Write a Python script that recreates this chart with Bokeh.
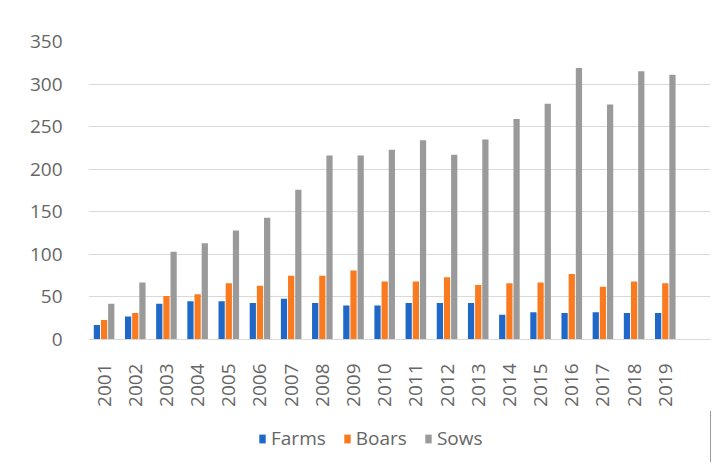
import math
from bokeh.plotting import figure
from bokeh.layouts import column
from bokeh.models import ColumnDataSource, Range1d, FixedTicker, Legend, LegendItem
from bokeh.transform import dodge
from bokeh.embed import file_html
from bokeh.resources import INLINE

years = ["2001", "2002", "2003", "2004", "2005", "2006", "2007", "2008", "2009", "2010",
         "2011", "2012", "2013", "2014", "2015", "2016", "2017", "2018", "2019"]
farms = [17, 27, 42, 45, 45, 43, 48, 43, 40, 40, 43, 43, 43, 29, 32, 31, 32, 31, 31]
boars = [23, 31, 51, 53, 66, 63, 75, 75, 81, 68, 68, 73, 64, 66, 67, 77, 62, 68, 66]
sows = [42, 67, 103, 113, 128, 143, 176, 216, 216, 223, 234, 217, 235, 259, 277, 319, 276, 315, 311]
y_ticks = [0, 50, 100, 150, 200, 250, 300, 350]
series_names = ["Farms", "Boars", "Sows"]
series_colors = ["#1F68C8", "#F97A1F", "#9A9A9A"]

xs = list(range(len(years)))
src = ColumnDataSource(dict(x=xs, farms=farms, boars=boars, sows=sows))

FONT = "Open Sans"
TXT = "#666666"
FS = "19px"

p = figure(width=718, height=411, output_backend="svg", toolbar_location=None,
           x_range=Range1d(-0.5, 19.45), y_range=Range1d(0, 350),
           min_border_left=88, min_border_right=8, min_border_top=41, min_border_bottom=72)
p.outline_line_color = None
p.background_fill_color = "white"
p.border_fill_color = "white"

w = 0.2
offsets = [-0.23, 0.0, 0.23]
cols = ["farms", "boars", "sows"]
for c, off, color in zip(cols, offsets, series_colors):
    p.vbar(x=dodge("x", off, range=p.x_range), top=c, width=w, source=src,
           fill_color=color, line_color=None)

# x axis
p.xaxis.ticker = FixedTicker(ticks=xs)
p.xaxis.major_label_overrides = {i: y for i, y in enumerate(years)}
p.xaxis.major_label_orientation = math.pi / 2
p.xaxis.major_tick_line_color = None
p.xaxis.minor_tick_line_color = None
p.xaxis.axis_line_color = "#d9d9d9"
p.xaxis.major_label_text_font = FONT
p.xaxis.major_label_text_font_size = FS
p.xaxis.major_label_text_color = TXT
p.xaxis.major_label_standoff = 18
p.xgrid.grid_line_color = None

# y axis
p.yaxis.ticker = FixedTicker(ticks=y_ticks)
p.yaxis.axis_line_color = None
p.yaxis.major_tick_line_color = None
p.yaxis.minor_tick_line_color = None
p.yaxis.major_label_text_font = FONT
p.yaxis.major_label_text_font_size = FS
p.yaxis.major_label_text_color = TXT
p.yaxis.major_label_standoff = 20
p.ygrid.grid_line_color = "#d9d9d9"
p.ygrid.grid_line_width = 1

# legend strip (its bars lie outside its visible range, only the legend shows)
lg = figure(width=718, height=51, output_backend="svg", toolbar_location=None,
            x_range=Range1d(-100, -99), y_range=Range1d(0, 1),
            x_axis_location=None, y_axis_location=None,
            min_border_left=88, min_border_right=8, min_border_top=0, min_border_bottom=0)
lg.grid.visible = False
lg.outline_line_color = None
lg.border_fill_color = "white"
lg.background_fill_color = "white"
items = []
for c, name, color in zip(cols, series_names, series_colors):
    r = lg.vbar(x="x", top=c, width=0.1, source=src, fill_color=color, line_color=None)
    items.append(LegendItem(label=name, renderers=[r]))
legend = Legend(items=items, orientation="horizontal", location=(170, 11),
                label_text_font=FONT, label_text_font_size=FS, label_text_color=TXT,
                glyph_width=8, glyph_height=11, label_standoff=5, spacing=17,
                padding=0, margin=0, border_line_color=None, background_fill_alpha=0)
lg.add_layout(legend, "center")

layout = column(p, lg, spacing=0)
open("out.html", "w").write(file_html(layout, INLINE))
